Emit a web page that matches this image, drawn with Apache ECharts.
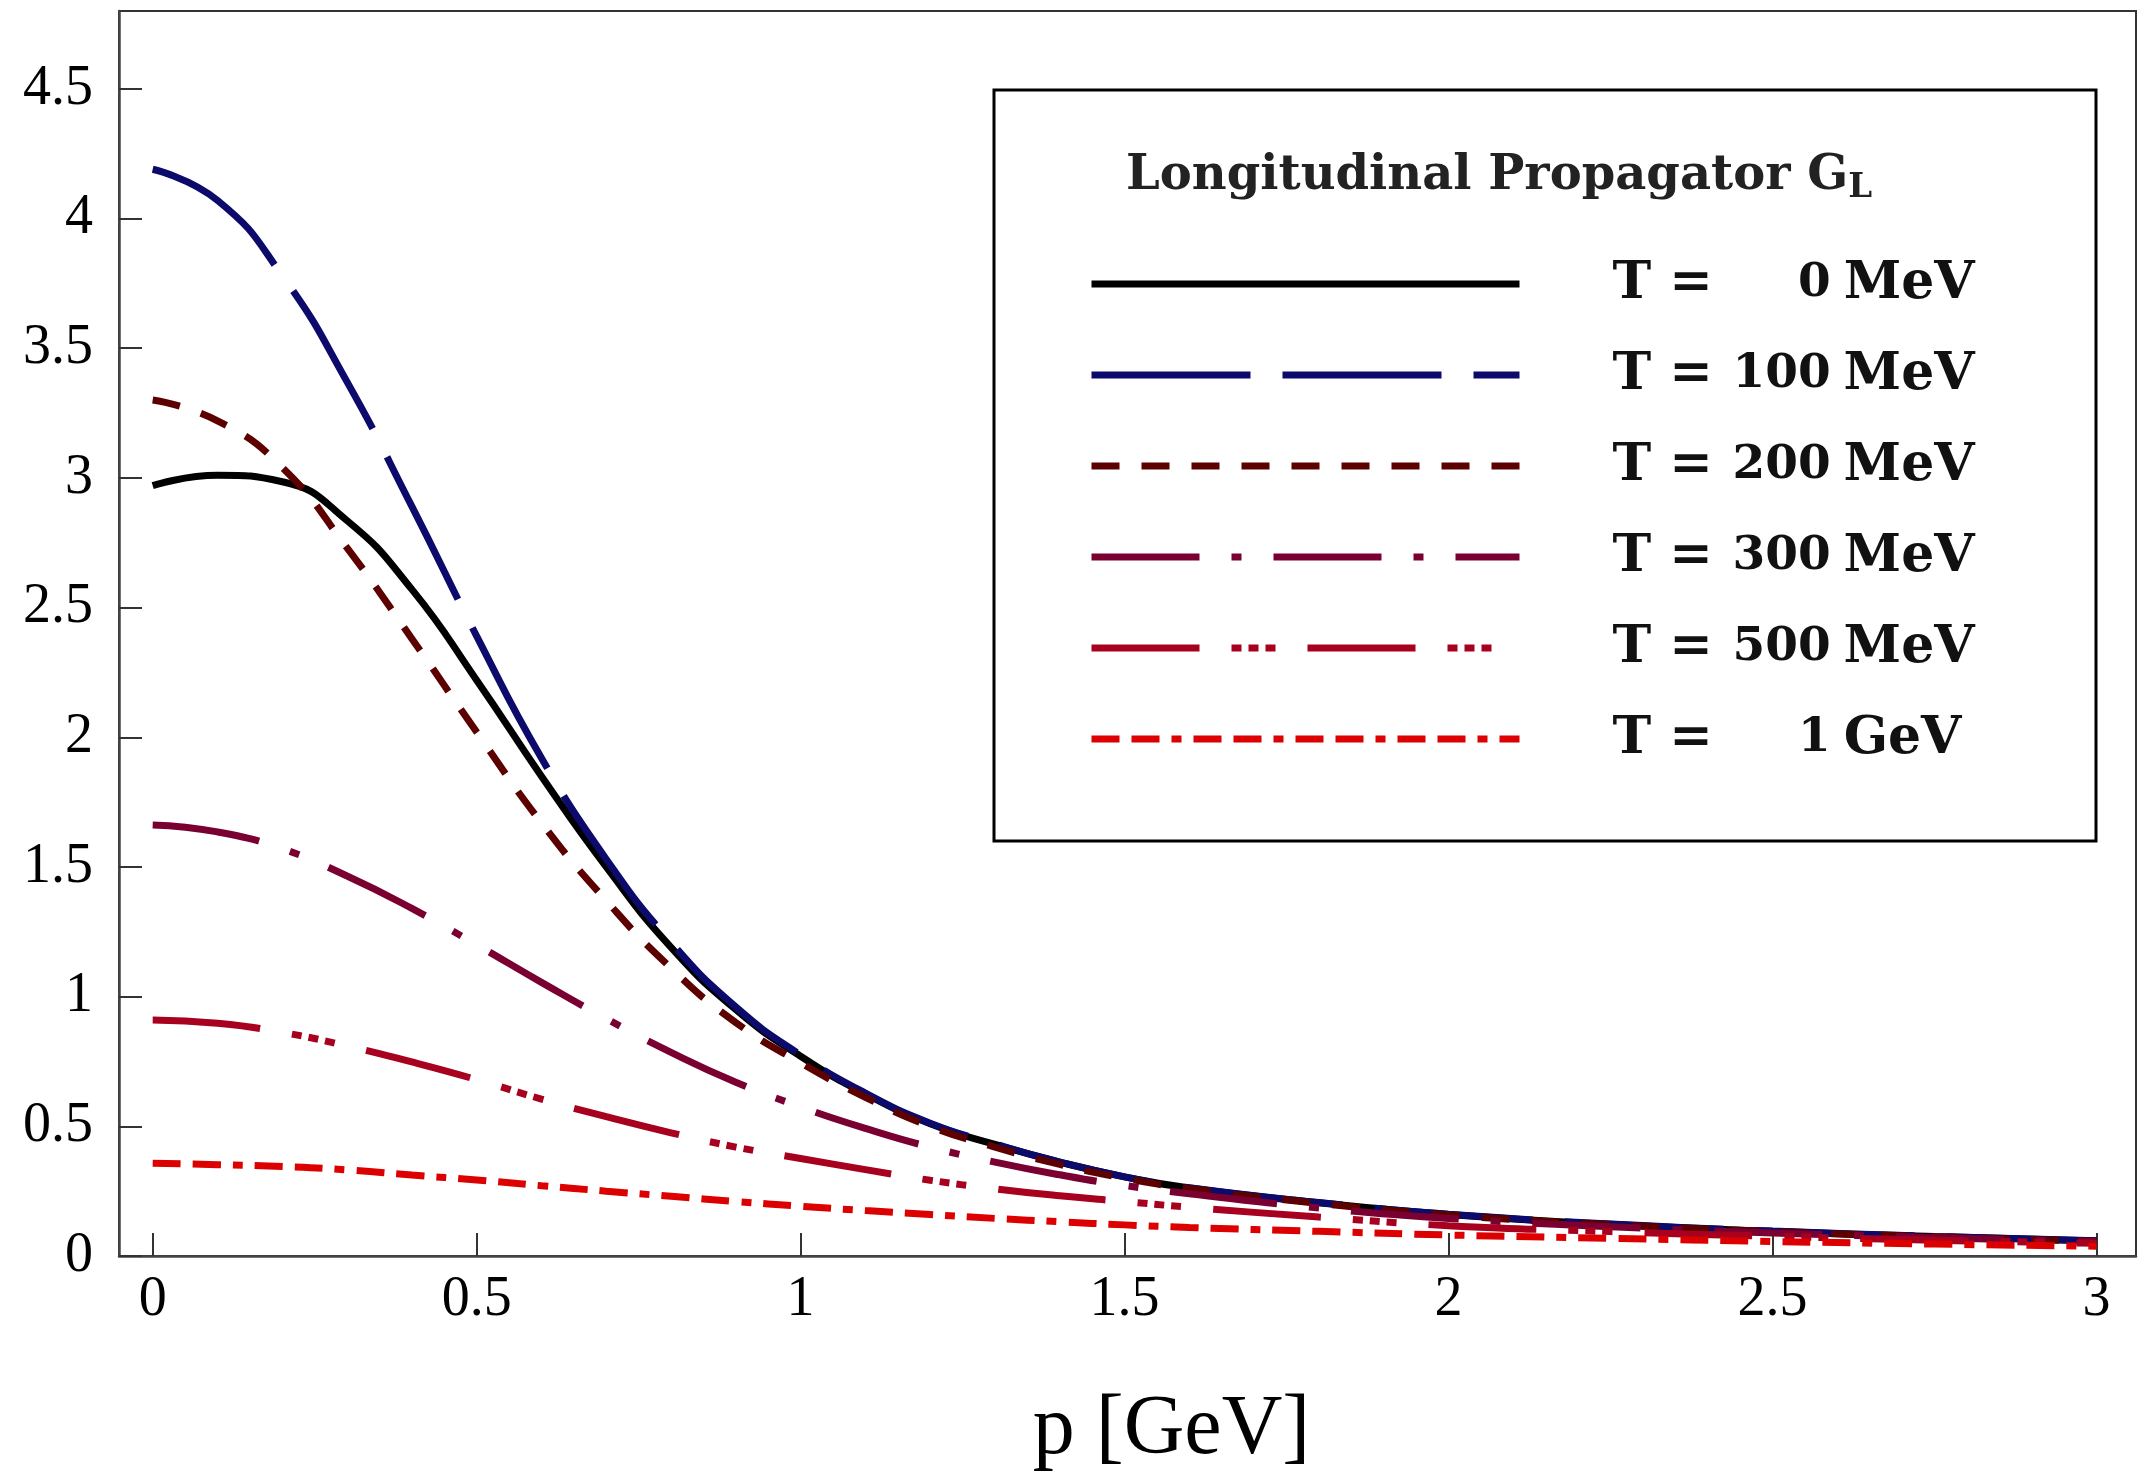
<!DOCTYPE html>
<html>
<head>
<meta charset="utf-8">
<title>Longitudinal Propagator G_L</title>
<script src="https://cdn.jsdelivr.net/npm/echarts@6/dist/echarts.min.js"></script>
<style>
  html, body { margin: 0; padding: 0; background: #fff; }
  #chart { width: 2138px; height: 1472px; }
</style>
</head>
<body>
<div id="chart"></div>
<script>
// momentum grid, GeV
const P = [0, 0.1, 0.2, 0.3, 0.4, 0.5, 0.6, 0.7, 0.8, 0.9, 1.0, 1.1, 1.2, 1.3, 1.4, 1.5, 1.6, 1.8, 2.0, 2.25, 2.5, 2.75, 3.0]

// G_L(p), one array per temperature
const G_T0    = [2.97, 3.01, 2.985, 2.835, 2.57, 2.22, 1.85, 1.50, 1.19, 0.95, 0.77, 0.625, 0.51, 0.43, 0.362, 0.305, 0.262, 0.205, 0.16, 0.122, 0.095, 0.075, 0.058]
const G_T100  = [4.19, 4.07, 3.78, 3.37, 2.89, 2.39, 1.92, 1.53, 1.21, 0.96, 0.775, 0.628, 0.512, 0.432, 0.362, 0.305, 0.263, 0.206, 0.161, 0.123, 0.096, 0.076, 0.059]
const G_T200  = [3.30, 3.22, 3.04, 2.73, 2.38, 2.02, 1.67, 1.37, 1.11, 0.90, 0.745, 0.612, 0.50, 0.42, 0.353, 0.30, 0.26, 0.203, 0.158, 0.121, 0.094, 0.074, 0.057]
const G_T300  = [1.662, 1.635, 1.57, 1.465, 1.34, 1.20, 1.055, 0.915, 0.785, 0.67, 0.575, 0.492, 0.42, 0.362, 0.313, 0.272, 0.24, 0.185, 0.145, 0.113, 0.089, 0.071, 0.055]
const G_T500  = [0.91, 0.897, 0.862, 0.81, 0.748, 0.68, 0.605, 0.537, 0.475, 0.42, 0.376, 0.333, 0.292, 0.259, 0.232, 0.21, 0.188, 0.15, 0.117, 0.094, 0.076, 0.061, 0.049]
const G_T1000 = [0.358, 0.352, 0.345, 0.332, 0.312, 0.293, 0.271, 0.25, 0.23, 0.21, 0.192, 0.175, 0.16, 0.145, 0.132, 0.12, 0.11, 0.095, 0.081, 0.068, 0.056, 0.046, 0.038]

const T_VALUE = ['0', '100', '200', '300', '500', '1']
const T_UNIT  = ['MeV', 'MeV', 'MeV', 'MeV', 'MeV', 'GeV']
const X_TICKS = [0, 0.5, 1, 1.5, 2, 2.5, 3]
const Y_TICKS = [0, 0.5, 1, 1.5, 2, 2.5, 3, 3.5, 4, 4.5]

const curves = [G_T0, G_T100, G_T200, G_T300, G_T500, G_T1000]
const colors = ['#000000', '#0c0a6b', '#5c0000', '#7b0032', '#a8001f', '#dd0000']
const dashes = [
  'solid',
  [159, 32],
  [28, 22],
  [108, 32, 10, 32],
  [108, 32, 10, 7, 10, 7, 10, 32],
  [28, 12, 28, 12, 10, 12],
]

const names = T_VALUE.map((v, i) => 'T' + i)

const chart = echarts.init(document.getElementById('chart'), null, { renderer: 'canvas' })

const tickFont = { fontFamily: '"Liberation Serif", "DejaVu Serif", serif', fontSize: 56, color: '#000' }
const legendFont = { fontFamily: '"DejaVu Serif", serif', fontWeight: 'bold', fontSize: 52, color: '#111' }
const numFont = { ...legendFont, fontSize: 47 }
const DIGIT_W = 0.696 * 47   // DejaVu Serif Bold figure width

chart.setOption({
  animation: false,
  backgroundColor: '#fff',
  grid: {
    left: 119, right: 2, top: 11, bottom: 216,
    outerBoundsMode: 'none',
    containLabel: false,
    show: true, borderColor: '#333', borderWidth: 2, backgroundColor: 'transparent',
  },
  xAxis: {
    type: 'value',
    min: -0.052, max: 3.061,
    name: 'p [GeV]',
    nameLocation: 'middle',
    nameGap: 133,
    nameTextStyle: { ...tickFont, fontSize: 84, padding: [0, 0, 0, 88] },
    axisLine: { onZero: false, lineStyle: { color: '#444', width: 2.5 } },
    axisTick: { inside: true, length: 23, customValues: X_TICKS, lineStyle: { color: '#333', width: 2 } },
    axisLabel: { ...tickFont, margin: 16, customValues: X_TICKS, formatter: (v) => String(v) },
    splitLine: { show: false },
  },
  yAxis: {
    type: 'value',
    min: 0, max: 4.8,
    axisLine: { show: true, onZero: false, lineStyle: { color: '#444', width: 2.5 } },
    axisTick: { show: true, inside: true, length: 23, customValues: Y_TICKS, lineStyle: { color: '#333', width: 2 } },
    axisLabel: { ...tickFont, margin: 26, customValues: Y_TICKS, formatter: (v) => String(v) },
    splitLine: { show: false },
  },
  legend: {
    data: names,
    orient: 'vertical',
    left: 1088, top: 254,
    padding: 0,
    itemWidth: 428, itemHeight: 14, itemGap: 31,
    selectedMode: false,
    lineStyle: { width: 7 },
    itemStyle: { opacity: 0, borderWidth: 0 },
    formatter: (name) => {
      const i = names.indexOf(name)
      const v = T_VALUE[i]
      return `{a|T =}{n${v.length}|${v}}{c|${T_UNIT[i]}}`
    },
    textStyle: {
      lineHeight: 60,
      rich: {
        a: { ...legendFont, width: 120, padding: [0, 0, 0, 88] },
        n1: { ...numFont, padding: [0, 0, 0, 2 * DIGIT_W] },
        n3: { ...numFont },
        c: { ...legendFont, padding: [0, 0, 0, 13] },
      },
    },
  },
  graphic: [
    {
      type: 'rect',
      shape: { x: 994, y: 90, width: 1102, height: 751 },
      style: { fill: 'none', stroke: '#000', lineWidth: 3 },
      z: 10,
    },
    {
      type: 'text',
      x: 1126, y: 177,
      style: {
        text: '{m|Longitudinal Propagator G}{s|L}',
        verticalAlign: 'middle',
        rich: {
          m: { fontFamily: '"DejaVu Serif", serif', fontWeight: 'bold', fontSize: 48, fill: '#222' },
          s: { fontFamily: '"DejaVu Serif", serif', fontWeight: 'bold', fontSize: 34, fill: '#222', padding: [22, 0, 0, 0] },
        },
      },
      z: 10,
    },
  ],
  series: curves.map((vals, i) => ({
    type: 'line',
    name: names[i],
    data: P.map((p, k) => [p, vals[k]]),
    smooth: 0.5,
    symbol: 'none',
    showSymbol: false,
    lineStyle: { color: colors[i], width: 7, type: dashes[i], cap: 'butt' },
    itemStyle: { color: colors[i] },
    z: 2 + i,
  })),
})
</script>
</body>
</html>
